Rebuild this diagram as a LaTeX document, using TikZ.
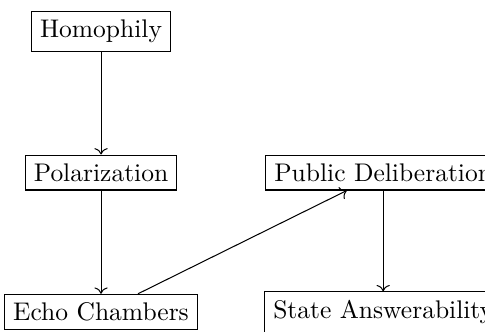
\documentclass[tikz,border=0pt]{standalone}
\usepackage{amsmath,amssymb}
\usetikzlibrary{
		calc,
		positioning,
		arrows.meta
	}
\tikzset{
		box/.style={draw, thin, fill=white},
		link/.style={thin, ->}
	}

\begin{document}
\begin{tikzpicture}
		\useasboundingbox (0mm,0mm) rectangle (66.83mm,-45.61mm);
		\node[box] (homophily) at (13.92mm, -4.34mm) {Homophily};
		\node[box] (polar) at (13.92mm, -23.77mm) {Polarization}; \node[box] (delib) at (52.8mm, -23.77mm) {Public Deliberation};
		\node[box] (echo) at (13.92mm, -43.0mm) {Echo Chambers}; \node[box] (answer) at (52.8mm, -43.0mm) {State Answerability};
		\draw[link] (homophily) -- (polar);
		\draw[link] (polar) -- (echo);
		\draw[link] (echo) -- (delib);
		\draw[link] (delib) -- (answer);
	\end{tikzpicture}
\end{document}
